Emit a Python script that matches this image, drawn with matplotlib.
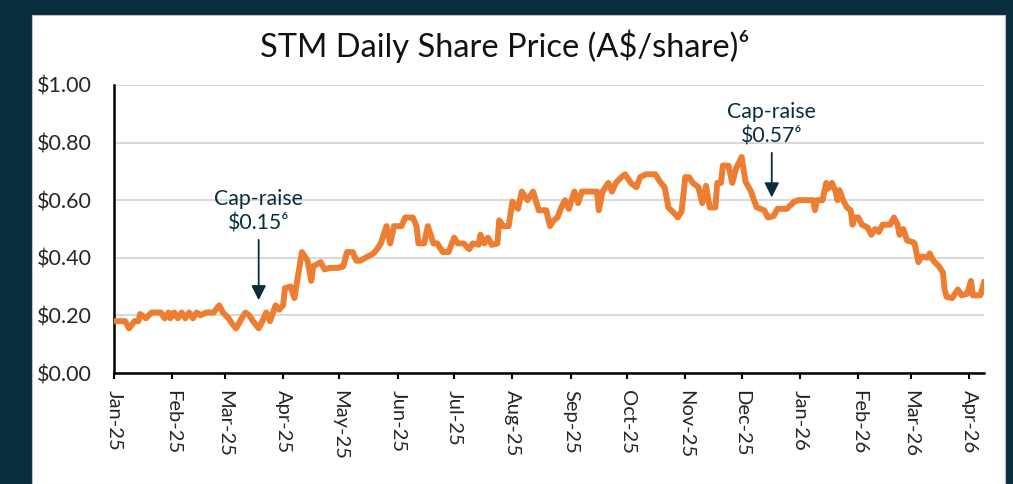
import pandas as pd
import matplotlib
matplotlib.use("Agg")
import matplotlib.pyplot as plt
import matplotlib.dates as mdates
from matplotlib.patches import Rectangle
from matplotlib.ticker import FuncFormatter

plt.rcParams['font.family'] = ['Lato', 'DejaVu Sans']

# trading days counted from 1 Jan 2025, closing price A$/share
start = pd.Timestamp("2025-01-01")
trade_day = [0, 6, 8, 11, 13, 14, 17, 20, 23, 25, 27, 29, 30, 32, 34, 36, 38, 40, 42, 44,
             46, 49, 53, 56, 58, 61, 63, 65, 68, 70, 72, 74, 77, 79, 81, 83, 86, 88, 90, 91,
             94, 96, 97, 100, 103, 105, 106, 110, 112, 115, 119, 122, 124, 127, 129, 131, 138, 140, 142, 145,
             147, 149, 153, 155, 159, 161, 162, 165, 167, 170, 172, 175, 178, 181, 183, 186, 189, 191, 194, 195,
             197, 199, 201, 204, 205, 207, 210, 212, 215, 217, 220, 223, 226, 230, 232, 234, 236, 238, 240, 242,
             245, 247, 249, 257, 258, 260, 263, 265, 267, 270, 272, 275, 278, 280, 283, 288, 291, 293, 295, 298,
             300, 302, 304, 306, 308, 311, 313, 315, 317, 320, 321, 323, 324, 327, 329, 331, 334, 336, 339, 340,
             342, 346, 348, 351, 353, 358, 362, 364, 372, 373, 374, 377, 379, 380, 382, 384, 385, 386, 388, 390,
             392, 393, 394, 396, 398, 401, 403, 405, 407, 409, 413, 415, 417, 418, 420, 422, 425, 426, 428, 430,
             433, 434, 436, 439, 441, 442, 443, 446, 449, 451, 454, 456, 457, 461, 463]
price = [0.18, 0.18, 0.155, 0.18, 0.18, 0.205, 0.19, 0.21, 0.21, 0.21, 0.19, 0.21, 0.19, 0.21, 0.19, 0.21, 0.19, 0.21, 0.19, 0.21,
         0.20, 0.21, 0.21, 0.235, 0.21, 0.19, 0.17, 0.155, 0.19, 0.21, 0.20, 0.18, 0.155, 0.18, 0.21, 0.18, 0.235, 0.22, 0.235, 0.295,
         0.30, 0.26, 0.30, 0.42, 0.39, 0.32, 0.37, 0.385, 0.36, 0.365, 0.365, 0.37, 0.42, 0.42, 0.39, 0.39, 0.415, 0.43, 0.45, 0.51,
         0.45, 0.51, 0.51, 0.54, 0.54, 0.51, 0.45, 0.45, 0.51, 0.45, 0.45, 0.42, 0.42, 0.47, 0.45, 0.45, 0.43, 0.45, 0.445, 0.48,
         0.45, 0.47, 0.445, 0.45, 0.53, 0.51, 0.51, 0.595, 0.57, 0.63, 0.60, 0.63, 0.565, 0.565, 0.51, 0.53, 0.54, 0.575, 0.60, 0.57,
         0.63, 0.59, 0.63, 0.63, 0.565, 0.63, 0.66, 0.63, 0.66, 0.68, 0.69, 0.66, 0.645, 0.68, 0.69, 0.69, 0.66, 0.645, 0.575, 0.555,
         0.54, 0.56, 0.68, 0.68, 0.66, 0.645, 0.59, 0.65, 0.575, 0.575, 0.66, 0.66, 0.72, 0.72, 0.66, 0.71, 0.75, 0.665, 0.63, 0.61,
         0.575, 0.565, 0.54, 0.545, 0.57, 0.57, 0.595, 0.60, 0.60, 0.565, 0.60, 0.60, 0.66, 0.64, 0.66, 0.63, 0.60, 0.635, 0.60, 0.575,
         0.565, 0.515, 0.54, 0.54, 0.515, 0.505, 0.48, 0.50, 0.49, 0.515, 0.515, 0.54, 0.515, 0.48, 0.50, 0.46, 0.455, 0.45, 0.385, 0.405,
         0.40, 0.415, 0.39, 0.37, 0.35, 0.29, 0.265, 0.26, 0.29, 0.27, 0.275, 0.32, 0.27, 0.27, 0.315]

dates = start + pd.to_timedelta(trade_day, unit="D")

navy = "#082e3d"
orange = "#ED7D31"

fig = plt.figure(figsize=(10.13, 4.84), dpi=100, facecolor=navy)
fig.patches.append(Rectangle((0.0316, 0.0), 0.9605, 0.969, transform=fig.transFigure,
                             facecolor="white", edgecolor="#bfbfbf", lw=0.8, zorder=-5))

ax = fig.add_axes([0.1125, 0.2293, 0.859, 0.5951])
ax.set_facecolor("none")
ax.plot(dates, price, color=orange, lw=4.3, solid_joinstyle="round", zorder=3)

ax.set_ylim(0, 1.0)
ax.set_xlim(start, start + pd.Timedelta(days=463))
ax.set_yticks([0, 0.2, 0.4, 0.6, 0.8, 1.0])
ax.yaxis.set_major_formatter(FuncFormatter(lambda v, p: f"${v:.2f}"))
ax.xaxis.set_major_locator(mdates.MonthLocator())
ax.xaxis.set_major_formatter(mdates.DateFormatter("%b-%y"))

ax.grid(axis="y", color="#d9d9d9", lw=1.5, zorder=0)
ax.set_axisbelow(True)
for s in ["top", "right"]:
    ax.spines[s].set_visible(False)
ax.spines["left"].set_linewidth(1.8)
ax.spines["bottom"].set_linewidth(1.8)
ax.tick_params(axis="y", length=0, pad=16, labelsize=15.5, labelcolor="#262626")
ax.tick_params(axis="x", length=4, width=1.5, direction="out", pad=8,
               labelsize=14.5, labelcolor="#262626", labelrotation=-90)
for lab in ax.get_xticklabels():
    lab.set_ha("center")
    lab.set_va("top")

fig.text(0.4985, 0.905, "STM Daily Share Price (A$/share)⁶", ha="center", va="center",
         fontsize=23.5, color="#111111")

# capital raise markers
raise_day = [pd.Timestamp("2025-03-19"), pd.Timestamp("2025-12-17")]
raise_label = ["Cap-raise\n$0.15⁶", "Cap-raise\n$0.57⁶"]
arrow_tip = [0.243, 0.60]
arrow_tail = [0.472, 0.774]
for d, lab, tip, tail in zip(raise_day, raise_label, arrow_tip, arrow_tail):
    ax.annotate("", xy=(d, tip), xytext=(d, tail),
                arrowprops=dict(arrowstyle="-|>", color=navy, lw=1.3, mutation_scale=22))
    ax.text(d, tail + 0.012, lab, ha="center", va="bottom", fontsize=15.3,
            color=navy, linespacing=1.3)

fig.savefig("out.png", dpi=100, facecolor=navy)
